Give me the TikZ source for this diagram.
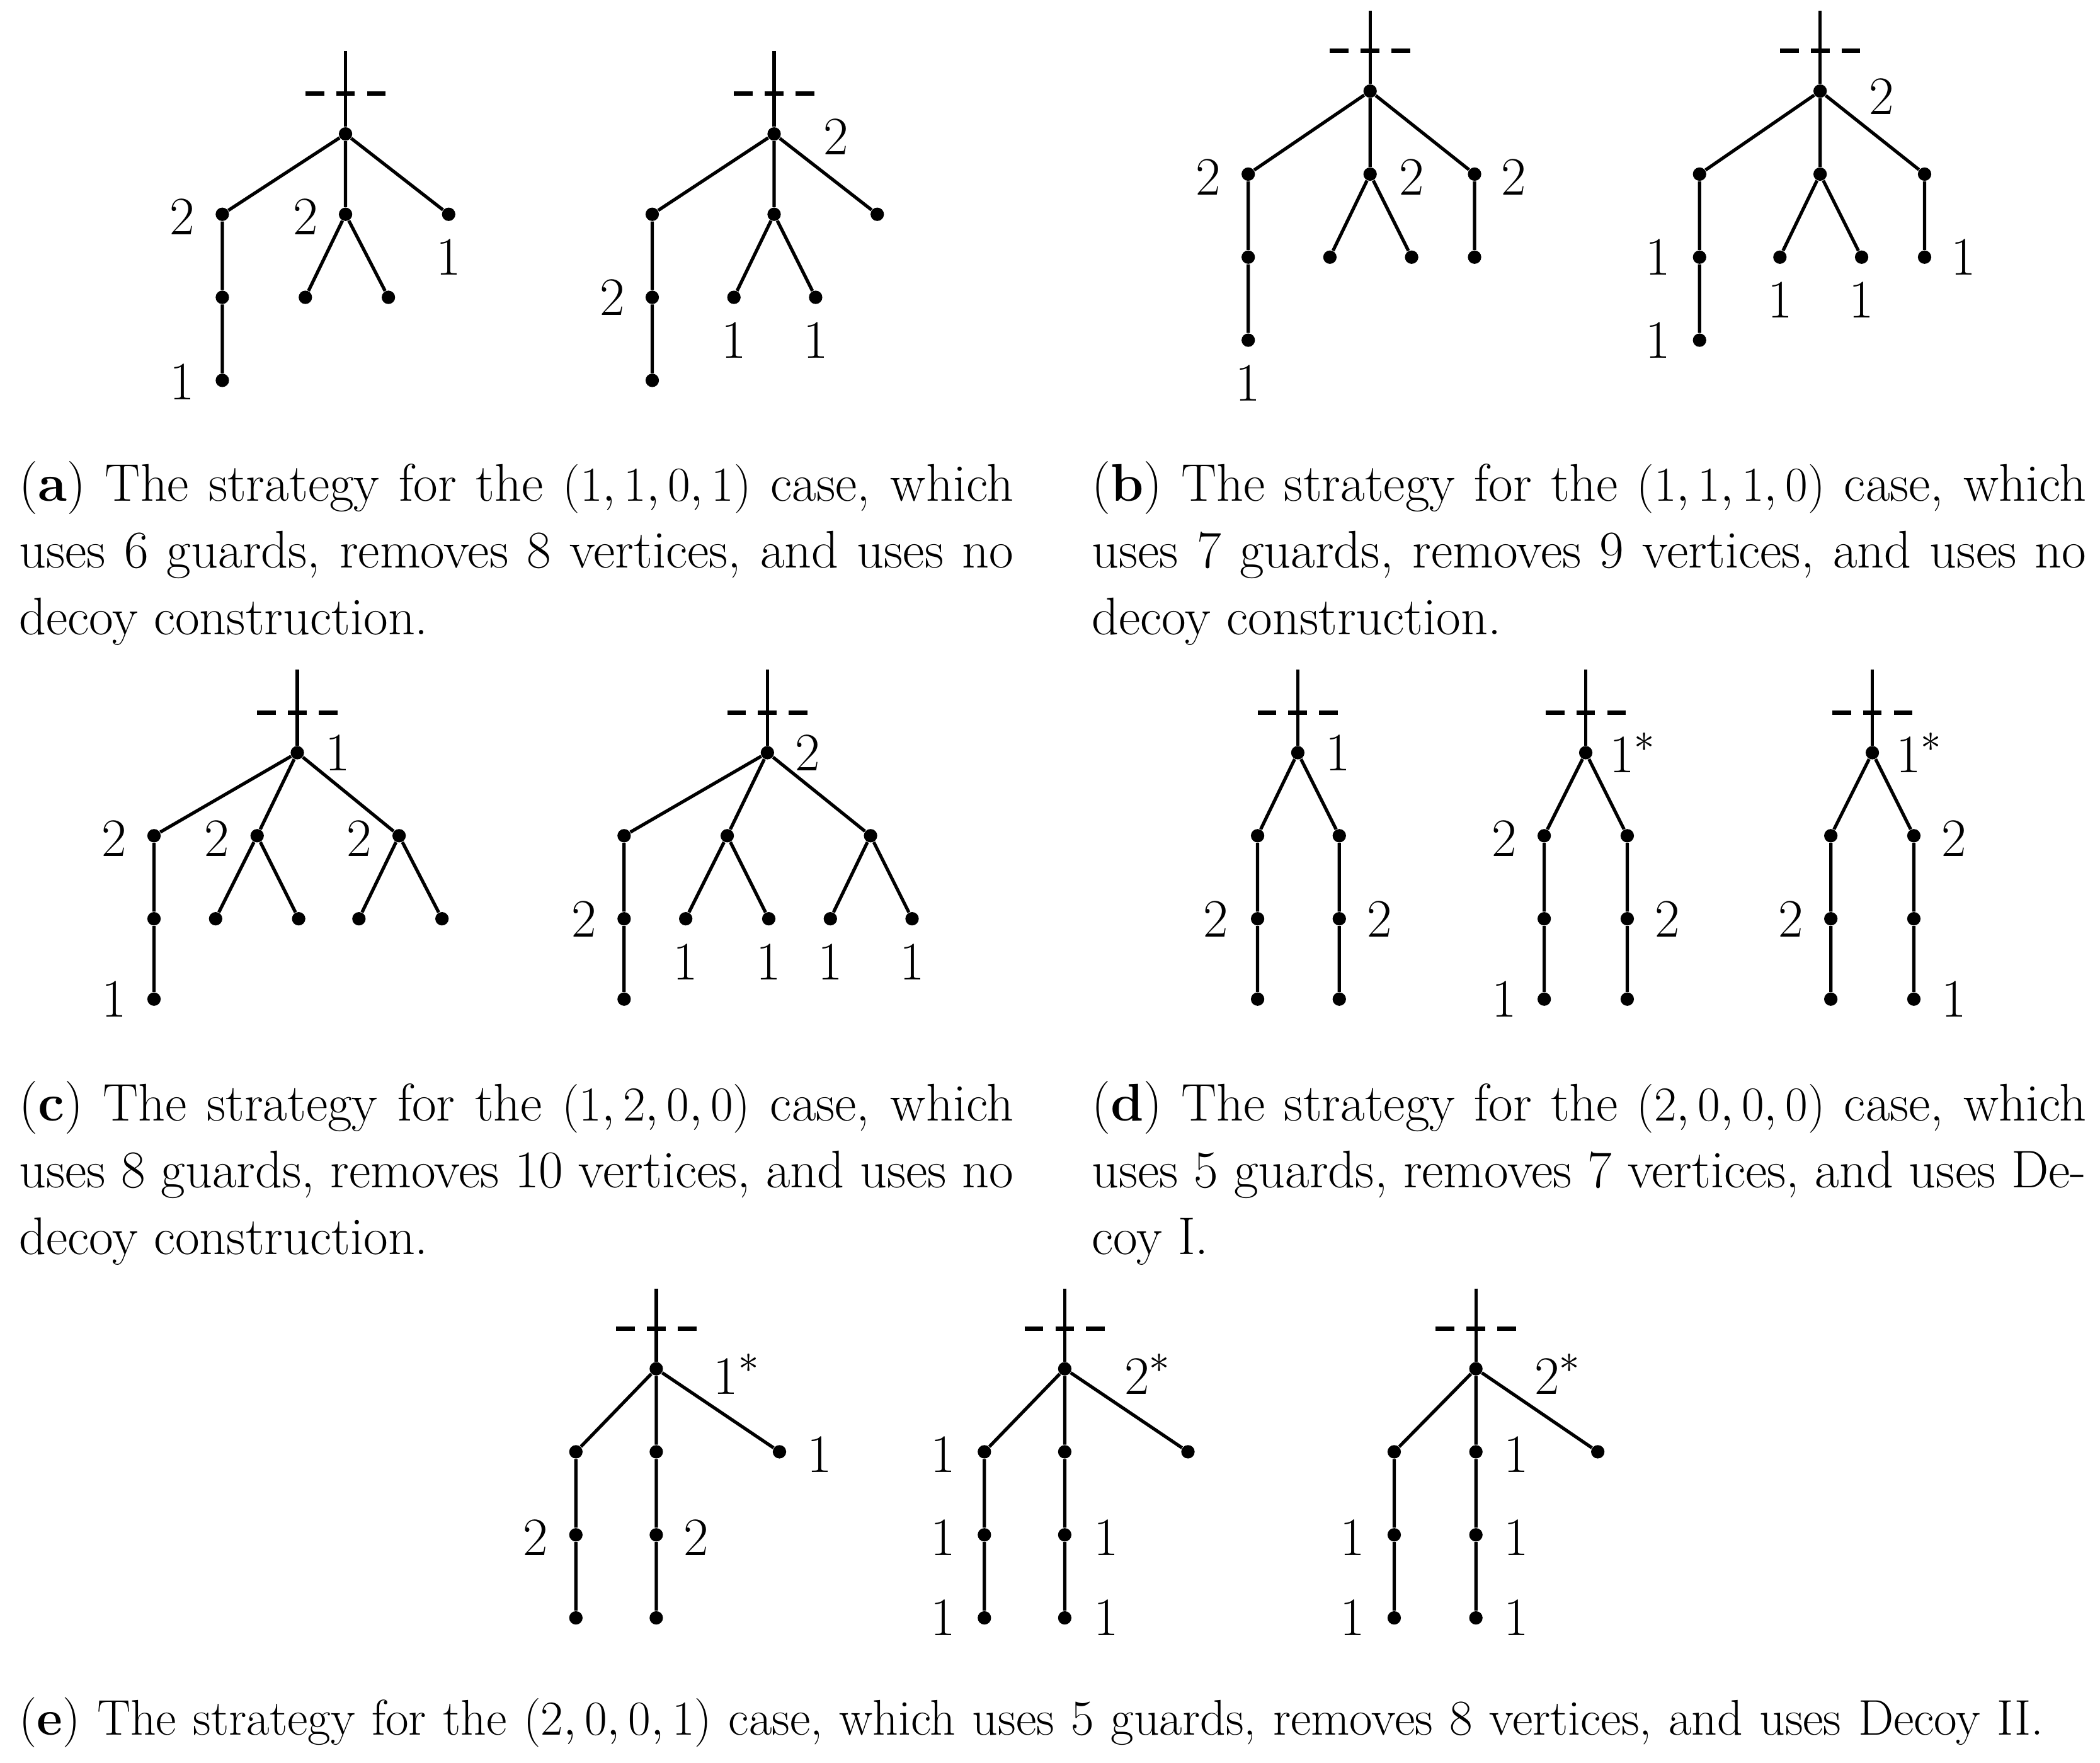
\documentclass[tikz,border=0pt]{standalone}
\begin{document}
\begin{tikzpicture}[x=0.02cm,y=-0.02cm,
  dot/.style={circle,fill,inner sep=0pt,minimum size=0.2cm},
  edge/.style={line width=1.4pt},
  dsh/.style={line width=1.9pt,dash pattern=on 0.28cm off 0.18cm},
  lab/.style={font=\fontsize{23}{28}\selectfont,inner sep=0pt},
  capt/.style={font=\fontsize{22.5}{28.4}\selectfont,text width=14.85cm,align=justify,anchor=north west,inner sep=0pt}]
\useasboundingbox (0,0) rectangle (1568,1316);
\newcommand{\rootline}[4]{%
  \node[dot] (#1) at (#2,#4) {};
  \coordinate (#1t) at (#2,#3);
  \draw[edge] (#1t) -- (#1);
  \coordinate (#1l) at ({#2-30},{#4-30}); \coordinate (#1r) at ({#2+30},{#4-30});
  \draw[dsh] (#1l) -- (#1r);}
% ---------- (a) tree 1
\rootline{aA}{258}{38}{100}
\node[dot] (aA1) at (166,160) {}; \node[dot] (aA2) at (258,160) {}; \node[dot] (aA3) at (335,160) {};
\node[dot] (aA4) at (166,222) {}; \node[dot] (aA5) at (166,284) {};
\node[dot] (aA6) at (228,222) {}; \node[dot] (aA7) at (290,222) {};
\draw[edge] (aA)--(aA1) (aA)--(aA2) (aA)--(aA3) (aA1)--(aA4)--(aA5) (aA2)--(aA6) (aA2)--(aA7);
\node[lab] (aAl1) at (136,162) {2}; \node[lab] (aAl2) at (228,162) {2};
\node[lab] (aAl3) at (335,192) {1}; \node[lab] (aAl4) at (136,285) {1};
% (a) tree 2
\rootline{aB}{578}{38}{100}
\node[dot] (aB1) at (487,160) {}; \node[dot] (aB2) at (578,160) {}; \node[dot] (aB3) at (655,160) {};
\node[dot] (aB4) at (487,222) {}; \node[dot] (aB5) at (487,284) {};
\node[dot] (aB6) at (548,222) {}; \node[dot] (aB7) at (609,222) {};
\draw[edge] (aB)--(aB1) (aB)--(aB2) (aB)--(aB3) (aB1)--(aB4)--(aB5) (aB2)--(aB6) (aB2)--(aB7);
\node[lab] (aBl1) at (624,102) {2}; \node[lab] (aBl2) at (457,222) {2};
\node[lab] (aBl3) at (548,254) {1}; \node[lab] (aBl4) at (609,254) {1};
% ---------- (b) tree 1
\rootline{bA}{1023}{8}{68}
\node[dot] (bA1) at (932,130) {}; \node[dot] (bA2) at (1023,130) {}; \node[dot] (bA3) at (1101,130) {};
\node[dot] (bA4) at (932,192) {}; \node[dot] (bA5) at (932,254) {};
\node[dot] (bA6) at (993,192) {}; \node[dot] (bA7) at (1054,192) {}; \node[dot] (bA8) at (1101,192) {};
\draw[edge] (bA)--(bA1) (bA)--(bA2) (bA)--(bA3) (bA1)--(bA4)--(bA5) (bA2)--(bA6) (bA2)--(bA7) (bA3)--(bA8);
\node[lab] (bAl1) at (902,132) {2}; \node[lab] (bAl2) at (1054,132) {2};
\node[lab] (bAl3) at (1130,132) {2}; \node[lab] (bAl4) at (932,286) {1};
% (b) tree 2
\rootline{bB}{1359}{8}{68}
\node[dot] (bB1) at (1269,130) {}; \node[dot] (bB2) at (1359,130) {}; \node[dot] (bB3) at (1437,130) {};
\node[dot] (bB4) at (1269,192) {}; \node[dot] (bB5) at (1269,254) {};
\node[dot] (bB6) at (1329,192) {}; \node[dot] (bB7) at (1390,192) {}; \node[dot] (bB8) at (1437,192) {};
\draw[edge] (bB)--(bB1) (bB)--(bB2) (bB)--(bB3) (bB1)--(bB4)--(bB5) (bB2)--(bB6) (bB2)--(bB7) (bB3)--(bB8);
\node[lab] (bBl1) at (1405,72) {2}; \node[lab] (bBl2) at (1238,192) {1};
\node[lab] (bBl3) at (1238,254) {1}; \node[lab] (bBl4) at (1329,224) {1};
\node[lab] (bBl5) at (1390,224) {1}; \node[lab] (bBl6) at (1466,192) {1};
% ---------- (c) tree 1
\rootline{cA}{222}{500}{562}
\node[dot] (cA1) at (115,624) {}; \node[dot] (cA2) at (192,624) {}; \node[dot] (cA3) at (298,624) {};
\node[dot] (cA4) at (115,686) {}; \node[dot] (cA5) at (115,746) {};
\node[dot] (cA6) at (161,686) {}; \node[dot] (cA7) at (223,686) {};
\node[dot] (cA8) at (268,686) {}; \node[dot] (cA9) at (330,686) {};
\draw[edge] (cA)--(cA1) (cA)--(cA2) (cA)--(cA3) (cA1)--(cA4)--(cA5) (cA2)--(cA6) (cA2)--(cA7) (cA3)--(cA8) (cA3)--(cA9);
\node[lab] (cAl1) at (252,562) {1}; \node[lab] (cAl2) at (85,626) {2};
\node[lab] (cAl3) at (162,626) {2}; \node[lab] (cAl4) at (268,626) {2}; \node[lab] (cAl5) at (85,746) {1};
% (c) tree 2
\rootline{cB}{573}{500}{562}
\node[dot] (cB1) at (466,624) {}; \node[dot] (cB2) at (543,624) {}; \node[dot] (cB3) at (650,624) {};
\node[dot] (cB4) at (466,686) {}; \node[dot] (cB5) at (466,746) {};
\node[dot] (cB6) at (512,686) {}; \node[dot] (cB7) at (574,686) {};
\node[dot] (cB8) at (620,686) {}; \node[dot] (cB9) at (681,686) {};
\draw[edge] (cB)--(cB1) (cB)--(cB2) (cB)--(cB3) (cB1)--(cB4)--(cB5) (cB2)--(cB6) (cB2)--(cB7) (cB3)--(cB8) (cB3)--(cB9);
\node[lab] (cBl1) at (603,562) {2}; \node[lab] (cBl2) at (436,686) {2};
\node[lab] (cBl3) at (512,718) {1}; \node[lab] (cBl4) at (574,718) {1};
\node[lab] (cBl5) at (620,718) {1}; \node[lab] (cBl6) at (681,718) {1};
% ---------- (d)
\rootline{dA}{969}{500}{562}
\node[dot] (dA1) at (939,624) {}; \node[dot] (dA2) at (1000,624) {};
\node[dot] (dA3) at (939,686) {}; \node[dot] (dA4) at (939,746) {};
\node[dot] (dA5) at (1000,686) {}; \node[dot] (dA6) at (1000,746) {};
\draw[edge] (dA)--(dA1) (dA)--(dA2) (dA1)--(dA3)--(dA4) (dA2)--(dA5)--(dA6);
\node[lab] (dAl1) at (999,562) {1}; \node[lab] (dAl2) at (908,686) {2}; \node[lab] (dAl3) at (1030,686) {2};
\rootline{dB}{1184}{500}{562}
\node[dot] (dB1) at (1153,624) {}; \node[dot] (dB2) at (1215,624) {};
\node[dot] (dB3) at (1153,686) {}; \node[dot] (dB4) at (1153,746) {};
\node[dot] (dB5) at (1215,686) {}; \node[dot] (dB6) at (1215,746) {};
\draw[edge] (dB)--(dB1) (dB)--(dB2) (dB1)--(dB3)--(dB4) (dB2)--(dB5)--(dB6);
\node[lab] (dBl1) at (1219,562) {1$^*$}; \node[lab] (dBl2) at (1123,626) {2};
\node[lab] (dBl3) at (1245,686) {2}; \node[lab] (dBl4) at (1123,746) {1};
\rootline{dC}{1398}{500}{562}
\node[dot] (dC1) at (1367,624) {}; \node[dot] (dC2) at (1429,624) {};
\node[dot] (dC3) at (1367,686) {}; \node[dot] (dC4) at (1367,746) {};
\node[dot] (dC5) at (1429,686) {}; \node[dot] (dC6) at (1429,746) {};
\draw[edge] (dC)--(dC1) (dC)--(dC2) (dC1)--(dC3)--(dC4) (dC2)--(dC5)--(dC6);
\node[lab] (dCl1) at (1433,562) {1$^*$}; \node[lab] (dCl2) at (1459,626) {2};
\node[lab] (dCl3) at (1337,686) {2}; \node[lab] (dCl4) at (1459,746) {1};
% ---------- (e)
\rootline{eA}{490}{962}{1022}
\node[dot] (eA1) at (430,1084) {}; \node[dot] (eA2) at (490,1084) {}; \node[dot] (eA3) at (582,1084) {};
\node[dot] (eA4) at (430,1146) {}; \node[dot] (eA5) at (430,1208) {};
\node[dot] (eA6) at (490,1146) {}; \node[dot] (eA7) at (490,1208) {};
\draw[edge] (eA)--(eA1) (eA)--(eA2) (eA)--(eA3) (eA1)--(eA4)--(eA5) (eA2)--(eA6)--(eA7);
\node[lab] (eAl1) at (550,1026) {1$^*$}; \node[lab] (eAl2) at (612,1086) {1};
\node[lab] (eAl3) at (400,1148) {2}; \node[lab] (eAl4) at (520,1148) {2};
\rootline{eB}{795}{962}{1022}
\node[dot] (eB1) at (735,1084) {}; \node[dot] (eB2) at (795,1084) {}; \node[dot] (eB3) at (887,1084) {};
\node[dot] (eB4) at (735,1146) {}; \node[dot] (eB5) at (735,1208) {};
\node[dot] (eB6) at (795,1146) {}; \node[dot] (eB7) at (795,1208) {};
\draw[edge] (eB)--(eB1) (eB)--(eB2) (eB)--(eB3) (eB1)--(eB4)--(eB5) (eB2)--(eB6)--(eB7);
\node[lab] (eBl1) at (857,1026) {2$^*$}; \node[lab] (eBl2) at (704,1086) {1};
\node[lab] (eBl3) at (704,1148) {1}; \node[lab] (eBl4) at (704,1208) {1};
\node[lab] (eBl5) at (826,1148) {1}; \node[lab] (eBl6) at (826,1208) {1};
\rootline{eC}{1102}{962}{1022}
\node[dot] (eC1) at (1041,1084) {}; \node[dot] (eC2) at (1102,1084) {}; \node[dot] (eC3) at (1193,1084) {};
\node[dot] (eC4) at (1041,1146) {}; \node[dot] (eC5) at (1041,1208) {};
\node[dot] (eC6) at (1102,1146) {}; \node[dot] (eC7) at (1102,1208) {};
\draw[edge] (eC)--(eC1) (eC)--(eC2) (eC)--(eC3) (eC1)--(eC4)--(eC5) (eC2)--(eC6)--(eC7);
\node[lab] (eCl1) at (1163,1026) {2$^*$}; \node[lab] (eCl2) at (1132,1086) {1};
\node[lab] (eCl3) at (1132,1148) {1}; \node[lab] (eCl4) at (1132,1208) {1};
\node[lab] (eCl5) at (1010,1148) {1}; \node[lab] (eCl6) at (1010,1208) {1};
% ---------- captions
\node[capt] (capa) at (14,344) {(\textbf{a}) The strategy for the $(1,1,0,1)$ case, which uses 6 guards, removes 8 vertices, and uses no decoy construction.};
\node[capt] (capb) at (815,344) {(\textbf{b}) The strategy for the $(1,1,1,0)$ case, which uses 7 guards, removes 9 vertices, and uses no decoy construction.};
\node[capt] (capc) at (14,807) {(\textbf{c}) The strategy for the $(1,2,0,0)$ case, which uses 8 guards, removes 10 vertices, and uses no decoy construction.};
\node[capt] (capd) at (815,807) {(\textbf{d}) The strategy for the $(2,0,0,0)$ case, which uses 5 guards, removes 7 vertices, and uses Decoy I.};
\node[capt,text width=31cm,align=left,font=\fontsize{21.3}{27}\selectfont] (cape) at (14,1267) {(\textbf{e}) The strategy for the $(2,0,0,1)$ case, which uses 5 guards, removes 8 vertices, and uses Decoy II.};
\end{tikzpicture}
\end{document}
